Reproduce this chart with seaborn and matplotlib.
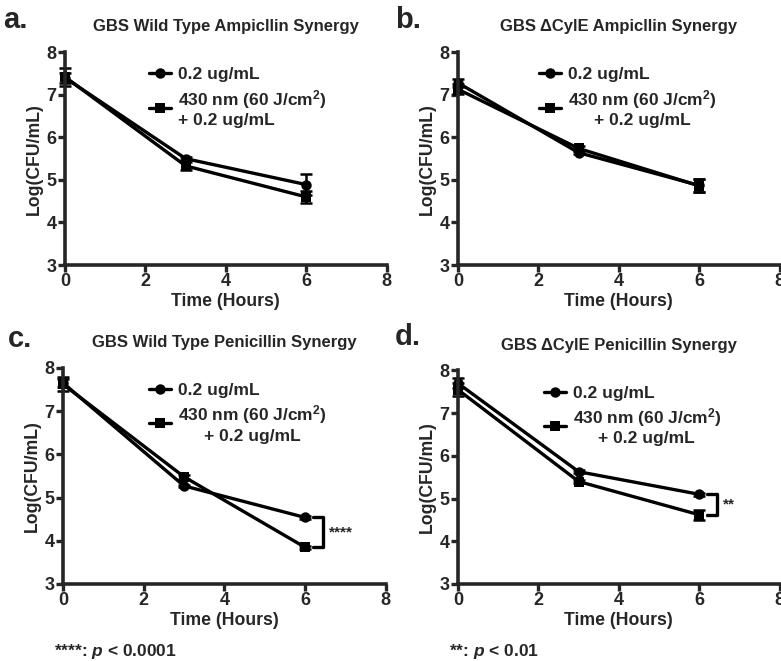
import numpy as np
import pandas as pd
import matplotlib
matplotlib.use("Agg")
import matplotlib.pyplot as plt
import seaborn as sns

sns.set_style("ticks")
plt.rcParams['font.family'] = ['Liberation Sans', 'DejaVu Sans']
plt.rcParams['font.weight'] = 'bold'
plt.rcParams['axes.labelweight'] = 'bold'
plt.rcParams['axes.titleweight'] = 'bold'
plt.rcParams['mathtext.fontset'] = 'custom'
plt.rcParams['mathtext.rm'] = 'Liberation Sans:bold'
plt.rcParams['mathtext.it'] = 'Liberation Sans:italic:bold'
plt.rcParams['mathtext.bf'] = 'Liberation Sans:bold'

# time points (hours)
tiempo = [0, 3, 6]

# panel a - wild type, ampicillin
a_amp = [7.40, 5.50, 4.89]
a_amp_err = [0.12, 0.04, 0.25]
a_luz = [7.42, 5.33, 4.60]
a_luz_err = [0.22, 0.10, 0.15]

# panel b - dCylE, ampicillin
b_amp = [7.28, 5.64, 4.87]
b_amp_err = [0.10, 0.03, 0.15]
b_luz = [7.13, 5.74, 4.86]
b_luz_err = [0.12, 0.05, 0.15]

# panel c - wild type, penicillin
c_amp = [7.65, 5.27, 4.54]
c_amp_err = [0.10, 0.03, 0.03]
c_luz = [7.62, 5.48, 3.85]
c_luz_err = [0.16, 0.05, 0.03]

# panel d - dCylE, penicillin
d_amp = [7.70, 5.63, 5.10]
d_amp_err = [0.12, 0.03, 0.03]
d_luz = [7.55, 5.40, 4.62]
d_luz_err = [0.15, 0.04, 0.12]

titulos = ['GBS Wild Type Ampicllin Synergy', 'GBS \u0394CylE Ampicllin Synergy',
           'GBS Wild Type Penicillin Synergy', 'GBS \u0394CylE Penicillin Synergy']
letras = ['a.', 'b.', 'c.', 'd.']
rotulo_amp = '0.2 ug/mL'
rotulo_luz = '430 nm (60 J/cm$^{\\mathrm{2}}$)\n+ 0.2 ug/mL'
estrelas = [None, None, '****', '**']
notas = [None, None, '****: $p$ < 0.0001', '**: $p$ < 0.01']

paineis = [
    (a_amp, a_amp_err, a_luz, a_luz_err),
    (b_amp, b_amp_err, b_luz, b_luz_err),
    (c_amp, c_amp_err, c_luz, c_luz_err),
    (d_amp, d_amp_err, d_luz, d_luz_err),
]

fig = plt.figure(figsize=(7.81, 6.61), dpi=100)

# axes rectangles (figure fraction)
posicoes = [
    [0.0832, 0.599, 0.412, 0.322],
    [0.5864, 0.599, 0.412, 0.322],
    [0.0807, 0.1165, 0.413, 0.327],
    [0.5864, 0.1165, 0.412, 0.323],
]
letra_xy = [(0.004, 0.970), (0.506, 0.970), (0.010, 0.487), (0.506, 0.490)]
leg_x = [0.235, 0.225, 0.24, 0.24]

lw = 2.4
for i, (amp, amp_e, luz, luz_e) in enumerate(paineis):
    ax = fig.add_axes(posicoes[i])
    df = pd.DataFrame({'Tempo': tiempo * 2,
                       'LogCFU': amp + luz,
                       'Grupo': [rotulo_amp] * 3 + [rotulo_luz] * 3})
    sns.lineplot(data=df[df['Grupo'] == rotulo_amp], x='Tempo', y='LogCFU',
                 marker='o', markersize=7.5, color='black', linewidth=lw,
                 markeredgewidth=0, label=rotulo_amp, ax=ax, clip_on=False)
    sns.lineplot(data=df[df['Grupo'] == rotulo_luz], x='Tempo', y='LogCFU',
                 marker='s', markersize=7, color='black', linewidth=lw,
                 markeredgewidth=0, label=rotulo_luz, ax=ax, clip_on=False)
    ax.errorbar(tiempo, amp, yerr=amp_e, fmt='none', ecolor='black',
                elinewidth=1.8, capsize=4, capthick=1.8, clip_on=False)
    ax.errorbar(tiempo, luz, yerr=luz_e, fmt='none', ecolor='black',
                elinewidth=1.8, capsize=4, capthick=1.8, clip_on=False)

    ax.set_xlim(0, 8)
    ax.set_ylim(3, 8)
    ax.set_xticks([0, 2, 4, 6, 8])
    ax.set_yticks([3, 4, 5, 6, 7, 8])
    ax.set_xlabel('Time (Hours)', fontsize=12.7, labelpad=2)
    ax.set_ylabel('Log(CFU/mL)', fontsize=12.7, labelpad=3)
    ax.set_title(titulos[i], fontsize=12, pad=15)
    sns.despine(ax=ax)
    for s in ['left', 'bottom']:
        ax.spines[s].set_linewidth(2.6)
    ax.tick_params(width=2.4, length=5, labelsize=13, pad=1)

    leg = ax.legend(loc='upper left', bbox_to_anchor=(leg_x[i], 0.97),
                    frameon=False, fontsize=12.5, handlelength=1.25,
                    handletextpad=0.4, labelspacing=0.3, borderpad=0)
    if i > 0:
        leg.get_texts()[1].set_multialignment('center')

    fig.text(letra_xy[i][0], letra_xy[i][1], letras[i], fontsize=21,
             fontweight='bold', va='center', ha='left')

    if estrelas[i]:
        topo = amp[-1]
        base = luz[-1]
        ax.plot([6.2, 6.45, 6.45, 6.2], [topo, topo, base, base],
                color='black', linewidth=2.4, clip_on=False)
        ax.text(6.6, (topo + base) / 2, estrelas[i], fontsize=11,
                ha='left', va='center')
        fig.text(posicoes[i][0] - 0.012, 0.0, notas[i], fontsize=12.5,
                 ha='left', va='bottom')

fig.savefig('out.png', dpi=100)
